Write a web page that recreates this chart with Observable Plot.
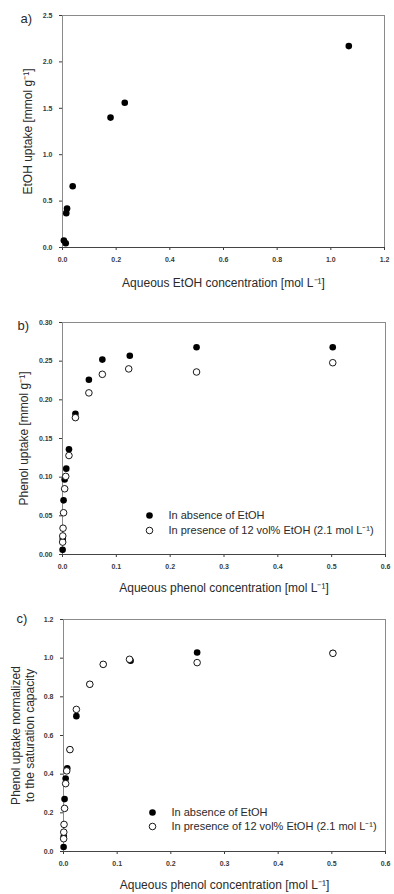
<!DOCTYPE html>
<html>
<head>
<meta charset="utf-8">
<script src="https://cdn.jsdelivr.net/npm/d3@7"></script>
<script src="https://cdn.jsdelivr.net/npm/@observablehq/plot@0.6"></script>
<style>
  html, body { margin: 0; padding: 0; background: white; }
  #chart { width: 394px; }
  #chart svg { display: block; }
</style>
</head>
<body>
<div id="chart"></div>
<script>
// ---- Panel a: EtOH uptake ----
const etohConc   = [0.005, 0.012, 0.014, 0.017, 0.038, 0.179, 0.232, 1.067];
const etohUptake = [0.075, 0.045, 0.370, 0.420, 0.660, 1.400, 1.560, 2.170];
const xTicksA = [0, 0.2, 0.4, 0.6, 0.8, 1.0, 1.2];
const yTicksA = [0, 0.5, 1.0, 1.5, 2.0, 2.5];

// ---- Panel b: phenol uptake ----
const phenolConcAbs   = [0.0002, 0.0005, 0.002, 0.004, 0.007, 0.012, 0.024, 0.049, 0.074, 0.125, 0.249, 0.502];
const phenolUptakeAbs = [0.006, 0.020, 0.070, 0.097, 0.111, 0.136, 0.182, 0.226, 0.252, 0.257, 0.268, 0.268];
const phenolConcPres   = [0.0003, 0.0005, 0.001, 0.002, 0.004, 0.006, 0.012, 0.024, 0.049, 0.074, 0.123, 0.249, 0.502];
const phenolUptakePres = [0.016, 0.024, 0.034, 0.054, 0.085, 0.101, 0.128, 0.177, 0.209, 0.233, 0.240, 0.236, 0.248];
const xTicksB = [0, 0.1, 0.2, 0.3, 0.4, 0.5, 0.6];
const yTicksB = [0, 0.05, 0.10, 0.15, 0.20, 0.25, 0.30];

// ---- Panel c: normalized phenol uptake ----
const normAbs  = [0.023, 0.077, 0.271, 0.377, 0.430, 0.527, 0.700, 0.865, 0.968, 0.987, 1.029, 1.027];
const normPres = [0.066, 0.100, 0.140, 0.223, 0.351, 0.417, 0.527, 0.735, 0.865, 0.968, 0.994, 0.977, 1.025];
const yTicksC = [0, 0.2, 0.4, 0.6, 0.8, 1.0, 1.2];

const legendLabels = ["In absence of EtOH", "In presence of 12 vol% EtOH (2.1 mol L\u207B\u00B9)"];

const FONT = "Arimo, 'Liberation Sans', Arial, Helvetica, sans-serif";
const TXT = "#2a2a2a";
const R = 3.3;
const TITLE = 12;

function axes(xt, yt, xf, yf) {
  return [
    Plot.frame({stroke: "#8a8a8a", strokeWidth: 1}),
    Plot.axisX({ticks: xt, tickFormat: xf, tickSize: 3, tickPadding: 7, fontSize: 7, fontWeight: "bold", color: "#3a3a3a", label: null}),
    Plot.axisY({ticks: yt, tickFormat: yf, tickSize: 3, tickPadding: 7, fontSize: 7, fontWeight: "bold", color: "#3a3a3a", label: null}),
    Plot.ruleY([0], {stroke: "#444", strokeWidth: 1})
  ];
}

function legend(dx, dy1, dy2) {
  return [
    Plot.dot([legendLabels[0]], {frameAnchor: "bottom-left", dx: dx, dy: dy1, r: R, fill: "black"}),
    Plot.dot([legendLabels[1]], {frameAnchor: "bottom-left", dx: dx, dy: dy2, r: R, fill: "white", stroke: "black", strokeWidth: 0.9}),
    Plot.text([legendLabels[0]], {text: d => d, frameAnchor: "bottom-left", dx: dx + 19, dy: dy1, textAnchor: "start", lineAnchor: "middle", fontSize: 11, fill: TXT}),
    Plot.text([legendLabels[1]], {text: d => d, frameAnchor: "bottom-left", dx: dx + 19, dy: dy2, textAnchor: "start", lineAnchor: "middle", fontSize: 11, fill: TXT})
  ];
}

function xTitle(t, dy) {
  return Plot.text([t], {text: d => d, frameAnchor: "bottom", dy: dy, lineAnchor: "middle", textAnchor: "middle", fontSize: TITLE, fill: TXT});
}
function yTitle(t, dx) {
  return Plot.text([t], {text: d => d, frameAnchor: "left", dx: dx, rotate: -90, textAnchor: "middle", lineAnchor: "middle", fontSize: TITLE, lineHeight: 1.15, fill: TXT});
}
function panelLabel(t, dx, dy) {
  return Plot.text([t], {text: d => d, frameAnchor: "top-left", dx: dx, dy: dy, textAnchor: "start", lineAnchor: "middle", fontSize: 13, fill: TXT});
}

const f1 = d => d.toFixed(1);
const f2 = d => d.toFixed(2);

const plotA = Plot.plot({
  width: 394, height: 295,
  marginLeft: 62, marginRight: 10, marginTop: 15, marginBottom: 48,
  style: {fontFamily: FONT, background: "white", overflow: "visible"},
  x: {domain: [0, 1.2]},
  y: {domain: [0, 2.5]},
  marks: [
    ...axes(xTicksA, yTicksA, f1, f1),
    Plot.dot(etohConc, {x: d => d, y: (d, i) => etohUptake[i], r: R, fill: "black"}),
    xTitle("Aqueous EtOH concentration [mol L\u207B\u00B9]", 36),
    yTitle("EtOH uptake [mmol g\u207B\u00B9]", -35),
    panelLabel("a)", -42, 3)
  ]
});

const plotB = Plot.plot({
  width: 394, height: 300,
  marginLeft: 62, marginRight: 9, marginTop: 27, marginBottom: 41,
  style: {fontFamily: FONT, background: "white", overflow: "visible"},
  x: {domain: [0, 0.6]},
  y: {domain: [0, 0.30]},
  marks: [
    ...axes(xTicksB, yTicksB, f1, f2),
    Plot.dot(phenolConcAbs, {x: d => d, y: (d, i) => phenolUptakeAbs[i], r: R, fill: "black"}),
    Plot.dot(phenolConcPres, {x: d => d, y: (d, i) => phenolUptakePres[i], r: R, fill: "white", stroke: "black", strokeWidth: 0.9}),
    ...legend(87, -39, -24),
    xTitle("Aqueous phenol concentration [mol L\u207B\u00B9]", 34),
    yTitle("Phenol uptake [mmol g\u207B\u00B9]", -39),
    panelLabel("b)", -45, 3)
  ]
});

const plotC = Plot.plot({
  width: 394, height: 299,
  marginLeft: 63, marginRight: 9, marginTop: 24, marginBottom: 43,
  style: {fontFamily: FONT, background: "white", overflow: "visible"},
  x: {domain: [0, 0.6]},
  y: {domain: [0, 1.2]},
  marks: [
    ...axes(xTicksB, yTicksC, f1, f1),
    Plot.dot(phenolConcAbs, {x: d => d, y: (d, i) => normAbs[i], r: R, fill: "black"}),
    Plot.dot(phenolConcPres, {x: d => d, y: (d, i) => normPres[i], r: R, fill: "white", stroke: "black", strokeWidth: 0.9}),
    ...legend(89, -39, -25),
    xTitle("Aqueous phenol concentration [mol L\u207B\u00B9]", 34),
    yTitle("Phenol uptake normalized\nto the saturation capacity", -41),
    panelLabel("c)", -47, -1)
  ]
});

const chart = document.getElementById("chart");
chart.append(plotA, plotB, plotC);
</script>
</body>
</html>
